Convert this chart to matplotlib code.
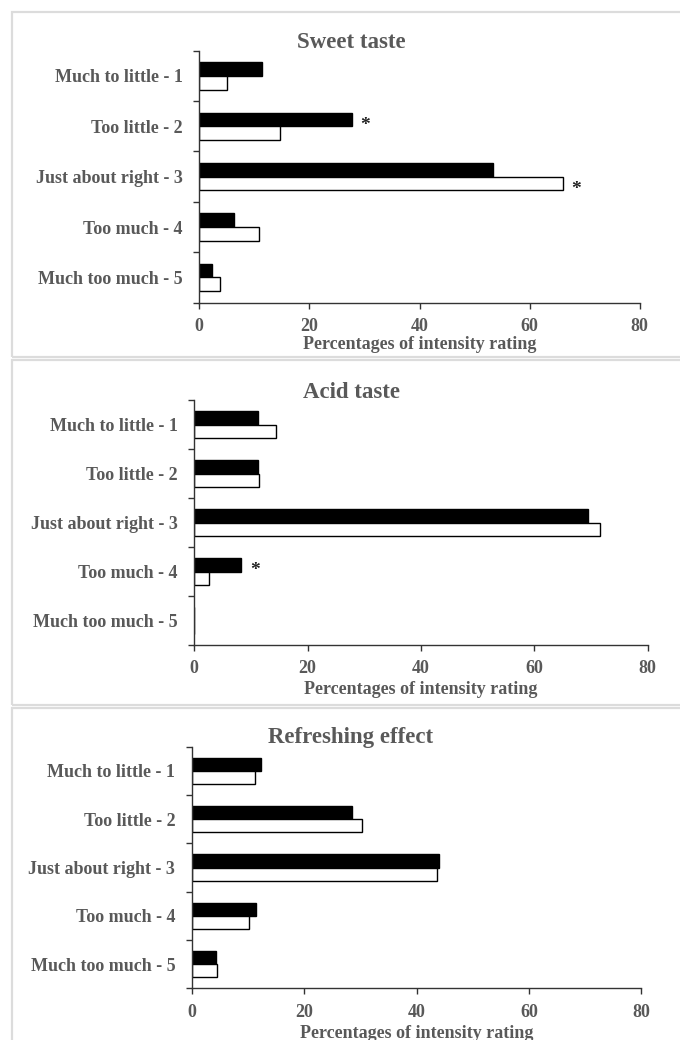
import matplotlib
matplotlib.use("Agg")
import matplotlib.pyplot as plt
from matplotlib.patches import Rectangle
import numpy as np

plt.rcParams['font.family'] = ['Liberation Serif', 'DejaVu Serif']

# categories (top to bottom)
categories = ["Much to little - 1", "Too little - 2", "Just about right - 3",
              "Too much - 4", "Much too much - 5"]
x_ticks = [0, 20, 40, 60, 80]

titles = ["Sweet taste", "Acid taste", "Refreshing effect"]

# black bars / white bars, percentages
sweet_black = [11.4, 27.8, 53.3, 6.3, 2.3]
sweet_white = [5.1, 14.7, 66.0, 10.9, 3.8]
acid_black = [11.3, 11.3, 69.5, 8.3, 0.0]
acid_white = [14.5, 11.5, 71.5, 2.6, 0.0]
refresh_black = [12.2, 28.5, 43.9, 11.4, 4.2]
refresh_white = [11.3, 30.3, 43.6, 10.2, 4.4]

# significance marks: (series, category index)
sweet_stars = [("black", 1), ("white", 2)]
acid_stars = [("black", 3)]
refresh_stars = []

W, H = 680, 1040
text_col = "#595959"

# axes boxes in pixels: left, right, top, bottom
ax_px = [(199.3, 639.7, 50.7, 302.7),
         (194.3, 647.7, 400.0, 645.0),
         (192.0, 641.4, 746.7, 988.3)]
title_y = [42, 392, 738]
xlabel_y = [345, 690, 1033]
panel_px = [(12, 357), (360, 705), (708, 1050)]

fig = plt.figure(figsize=(W / 100, H / 100), dpi=100)

# light frames around each panel
for top, bot in panel_px:
    fig.add_artist(Rectangle((12 / W, 1 - bot / H), 1.2, (bot - top) / H,
                             transform=fig.transFigure, fill=False,
                             edgecolor="#dcdcdc", lw=1.6))

data = [(sweet_black, sweet_white, sweet_stars),
        (acid_black, acid_white, acid_stars),
        (refresh_black, refresh_white, refresh_stars)]

h = 0.27
y = np.arange(len(categories))

for i, (blk, wht, stars) in enumerate(data):
    l, r, t, b = ax_px[i]
    ax = fig.add_axes([l / W, 1 - b / H, (r - l) / W, (b - t) / H])
    ax.barh(y - h / 2, blk, height=h, color="black", edgecolor="black", lw=1.0)
    ax.barh(y + h / 2, wht, height=h, color="white", edgecolor="black", lw=1.0)

    for series, idx in stars:
        if series == "black":
            ax.text(blk[idx] + 2.4, y[idx] - h / 2 + 0.12, "*", ha="center", va="center",
                    fontsize=14, fontweight="bold", color="#222222")
        else:
            ax.text(wht[idx] + 2.4, y[idx] + h / 2 + 0.12, "*", ha="center", va="center",
                    fontsize=14, fontweight="bold", color="#222222")

    ax.set_xlim(0, 80)
    ax.set_ylim(4.5, -0.5)
    ax.set_xticks(x_ticks)
    ax.set_xticklabels([str(v) for v in x_ticks], fontsize=13, fontweight="bold", color=text_col)
    ax.set_yticks(np.arange(-0.5, 5, 1.0))
    ax.set_yticklabels([])
    ax.set_yticks(y, minor=True)
    ax.set_yticklabels(categories, minor=True, fontsize=13, fontweight="bold", color=text_col)
    ax.tick_params(axis="y", which="major", length=4, width=1, direction="out", color="#333333")
    ax.tick_params(axis="y", which="minor", length=0, pad=12)
    ax.tick_params(axis="x", length=4, width=1, direction="out", color="#333333", pad=7)
    for s in ["top", "right"]:
        ax.spines[s].set_visible(False)
    for s in ["left", "bottom"]:
        ax.spines[s].set_color("#333333")
        ax.spines[s].set_linewidth(1.0)

    fig.text(351 / W, 1 - title_y[i] / H, titles[i], ha="center", va="center",
             fontsize=16.5, fontweight="bold", color=text_col)
    fig.text((l + r) / 2 / W, 1 - xlabel_y[i] / H, "Percentages of intensity rating",
             ha="center", va="center", fontsize=13, fontweight="bold", color=text_col)

fig.savefig("out.png", dpi=100)
